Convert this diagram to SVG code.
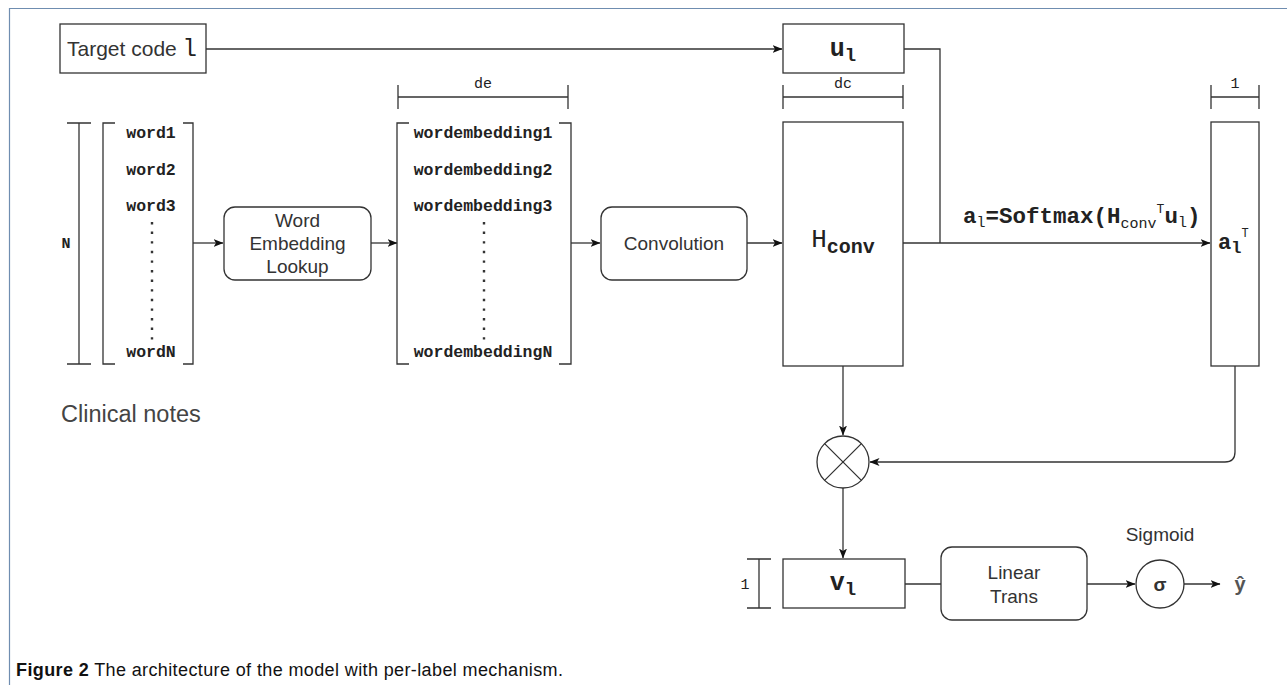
<svg xmlns="http://www.w3.org/2000/svg" width="1287" height="685" viewBox="0 0 1287 685">
<defs>
<style>
.bx{fill:#fff;stroke:#333;stroke-width:1.3}
.ln{fill:none;stroke:#333;stroke-width:1.3}
.dot{fill:none;stroke:#333;stroke-width:2.4;stroke-dasharray:2.4 7.2}
.sans{font-family:"Liberation Sans",Arial,sans-serif;fill:#333}
.mono{font-family:"Liberation Mono","Courier New",monospace;fill:#222}
.b{font-weight:bold}
.wd{font-family:"Liberation Mono","Courier New",monospace;font-weight:bold;font-size:16.5px;fill:#222;text-anchor:middle}
</style>
<marker id="arr" viewBox="0 0 10 8" refX="9.5" refY="4" markerWidth="10" markerHeight="8" markerUnits="userSpaceOnUse" orient="auto">
<path d="M0,0 L10,4 L0,8 L2.5,4 z" fill="#111"/>
</marker>
</defs>
<rect width="1287" height="685" fill="#fff"/>
<path d="M9.5,685 V8.5 H1287" fill="none" stroke="#6f8db0" stroke-width="1.2"/>

<g id="connectors">
<path class="ln" d="M206,49 H782" marker-end="url(#arr)"/>
<path class="ln" d="M193,243 H223" marker-end="url(#arr)"/>
<path class="ln" d="M371,243 H397" marker-end="url(#arr)"/>
<path class="ln" d="M571,243 H600" marker-end="url(#arr)"/>
<path class="ln" d="M747,243 H782" marker-end="url(#arr)"/>
<path class="ln" d="M904,49 H940 V243"/>
<path class="ln" d="M903,243 H1210" marker-end="url(#arr)"/>
<path class="ln" d="M843,366 V435" marker-end="url(#arr)"/>
<path class="ln" d="M1235,366 V452 Q1235,462 1225,462 H870" marker-end="url(#arr)"/>
<path class="ln" d="M843,488 V558" marker-end="url(#arr)"/>
<path class="ln" d="M905,584 H941"/>
<path class="ln" d="M1087,584 H1135" marker-end="url(#arr)"/>
<path class="ln" d="M1184,584 H1220" marker-end="url(#arr)"/>
</g>

<g id="target-code">
<rect class="bx" x="60" y="24" width="146" height="49"/>
<text x="67" y="56" class="sans" font-size="21">Target code <tspan class="mono" font-size="24">l</tspan></text>
</g>

<g id="clinical-notes">
<path class="ln" d="M79,123 V364 M67,123 H91 M67,364 H91"/>
<text x="66" y="248" class="mono b" font-size="15" text-anchor="middle">N</text>
<path class="ln" d="M115,123 H103 V364 H115 M183,123 H193 V364 H183"/>
<text x="151" y="138" class="wd">word1</text>
<text x="151" y="175" class="wd">word2</text>
<text x="151" y="211" class="wd">word3</text>
<line class="dot" x1="152" y1="222" x2="152" y2="342"/>
<text x="151" y="357" class="wd">wordN</text>
<text x="61" y="422" class="sans" font-size="23.5" style="fill:#444">Clinical notes</text>
</g>

<g id="word-embedding-lookup">
<rect class="bx" x="224" y="207" width="147" height="73" rx="11"/>
<text class="sans" font-size="19" text-anchor="middle"><tspan x="297.5" y="227">Word</tspan><tspan x="297.5" y="250">Embedding</tspan><tspan x="297.5" y="273">Lookup</tspan></text>
</g>

<g id="word-embeddings">
<path class="ln" d="M398,85 V109 M568,85 V109 M398,97 H568"/>
<text x="483" y="88" class="mono" font-size="15" text-anchor="middle">de</text>
<path class="ln" d="M409,123 H397 V364 H409 M559,123 H571 V364 H559"/>
<text x="483" y="138" class="wd">wordembedding1</text>
<text x="483" y="175" class="wd">wordembedding2</text>
<text x="483" y="211" class="wd">wordembedding3</text>
<line class="dot" x1="484" y1="222" x2="484" y2="342"/>
<text x="483" y="357" class="wd">wordembeddingN</text>
</g>

<g id="convolution">
<rect class="bx" x="601" y="207" width="146" height="73" rx="11"/>
<text x="674" y="250" class="sans" font-size="19" text-anchor="middle">Convolution</text>
</g>

<g id="u-l">
<rect class="bx" x="783" y="24" width="121" height="49"/>
<text x="843" y="56" class="mono b" font-size="25" text-anchor="middle">u<tspan font-size="19" dy="5">l</tspan></text>
</g>

<g id="h-conv">
<path class="ln" d="M783,85 V109 M903,85 V109 M783,97 H903"/>
<text x="843" y="88" class="mono" font-size="15" text-anchor="middle">dc</text>
<rect class="bx" x="783" y="122" width="120" height="244"/>
<text x="843" y="247" class="mono" font-size="26" text-anchor="middle">H<tspan class="b" font-size="20" dy="6">conv</tspan></text>
</g>

<g id="softmax-label">
<text x="963" y="223" class="mono b" font-size="22.5">a<tspan font-size="15" font-weight="normal" dy="4">l</tspan><tspan dy="-4">=Softmax(H</tspan><tspan font-size="15" font-weight="normal" dy="5">conv</tspan><tspan font-size="13" font-weight="normal" dy="-15">T</tspan><tspan dy="10">u</tspan><tspan font-size="15" font-weight="normal" dy="4">l</tspan><tspan dy="-4">)</tspan></text>
</g>

<g id="a-l">
<path class="ln" d="M1211,85 V109 M1259,85 V109 M1211,97 H1259"/>
<text x="1235" y="88" class="mono" font-size="15" text-anchor="middle">1</text>
<rect class="bx" x="1211" y="122" width="48" height="244"/>
<text x="1218" y="249" class="mono b" font-size="22">a<tspan font-size="17" dy="4">l</tspan><tspan font-size="12" font-weight="normal" dy="-16">T</tspan></text>
</g>

<g id="multiply">
<circle class="bx" cx="843" cy="462" r="26"/>
<path class="ln" d="M824.6,443.6 L861.4,480.4 M861.4,443.6 L824.6,480.4"/>
</g>

<g id="v-l">
<path class="ln" d="M759,559 V608 M747,559 H771 M747,608 H771"/>
<text x="745" y="589" class="mono" font-size="15" text-anchor="middle">1</text>
<rect class="bx" x="783" y="559" width="122" height="49"/>
<text x="843" y="590" class="mono b" font-size="25" text-anchor="middle">v<tspan font-size="19" dy="5">l</tspan></text>
</g>

<g id="linear-trans">
<rect class="bx" x="941" y="547" width="146" height="73" rx="11"/>
<text class="sans" font-size="19" text-anchor="middle"><tspan x="1014" y="579">Linear</tspan><tspan x="1014" y="603">Trans</tspan></text>
</g>

<g id="sigmoid">
<text x="1160" y="541" class="sans" font-size="19" text-anchor="middle">Sigmoid</text>
<circle class="bx" cx="1160" cy="584" r="24"/>
<text x="1160" y="591" class="sans b" font-size="19" text-anchor="middle">σ</text>
</g>

<g id="y-hat">
<text x="1240" y="591" class="sans b" font-size="20" text-anchor="middle" style="fill:#555">ŷ</text>
</g>

<g id="caption">
<text x="16" y="676" class="sans" font-size="18" style="fill:#111" textLength="547" lengthAdjust="spacing"><tspan font-weight="bold">Figure 2</tspan>  The architecture of the model with per-label mechanism.</text>
</g>
</svg>
